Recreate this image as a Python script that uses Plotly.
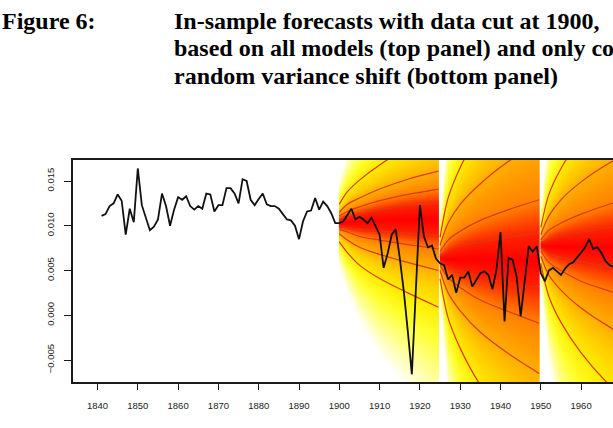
import numpy as np
import plotly.graph_objects as go

# ---------------- observed series ----------------
years = list(range(1841, 1969))
values = [
    0.0111, 0.0113, 0.0122, 0.0125, 0.0135, 0.0128, 0.0090, 0.0119, 0.0104, 0.0164,  # 1841-1850
    0.0123, 0.0110, 0.0095, 0.0099, 0.0107, 0.0136, 0.0122, 0.0100, 0.0118, 0.0132,  # 1851-1860
    0.0129, 0.0133, 0.0122, 0.0118, 0.0122, 0.0119, 0.0136, 0.0135, 0.0116, 0.0123,  # 1861-1870
    0.0123, 0.0142, 0.0142, 0.0136, 0.0125, 0.0152, 0.0150, 0.0129, 0.0123, 0.0130,  # 1871-1880
    0.0136, 0.0124, 0.0122, 0.0122, 0.0119, 0.0113, 0.0107, 0.0106, 0.0100, 0.0085,  # 1881-1890
    0.0105, 0.0116, 0.0117, 0.0131, 0.0118, 0.0127, 0.0122, 0.0114, 0.0103, 0.0103,  # 1891-1900
    0.0105, 0.0112, 0.0119, 0.0107, 0.0110, 0.0107, 0.0103, 0.0109, 0.0100, 0.0090,  # 1901-1910
    0.0053, 0.0069, 0.0090, 0.0096, 0.0064, 0.0027, -0.0018, -0.0066, 0.0029, 0.0123,  # 1911-1920
    0.0088, 0.0076, 0.0078, 0.0063, 0.0058, 0.0056, 0.0040, 0.0045, 0.0025, 0.0042,  # 1921-1930
    0.0042, 0.0049, 0.0032, 0.0040, 0.0047, 0.0049, 0.0045, 0.0029, 0.0051, 0.0093,  # 1931-1940
    -0.0007, 0.0064, 0.0062, 0.0043, -0.0001, 0.0038, 0.0077, 0.0071, 0.0077, 0.0047,  # 1941-1950
    0.0038, 0.0050, 0.0053, 0.0049, 0.0045, 0.0052, 0.0057, 0.0059, 0.0064, 0.0070,  # 1951-1960
    0.0076, 0.0085, 0.0074, 0.0076, 0.0070, 0.0061, 0.0056, 0.0054,                  # 1961-1968
]

# ---------------- fan chart quantile lines ----------------
seg_start = [1900.0, 1925.0, 1950.0]
seg_end = [1924.6, 1949.6, 1968.6]
horizon = [0, 2, 5, 10, 17, 24.6]
probs = [0.01, 0.05, 0.10, 0.25, 0.75, 0.90, 0.95, 0.99]
z_levels = [-2.326, -1.645, -1.282, -0.674, 0.674, 1.282, 1.645, 2.326]

seg1_q = [
    [0.0082, 0.0070, 0.0056, 0.0041, 0.0025, 0.0009],
    [0.0091, 0.0084, 0.0076, 0.0068, 0.0059, 0.0050],
    [0.0096, 0.0093, 0.0088, 0.0084, 0.0079, 0.0074],
    [0.0099, 0.0098, 0.0096, 0.0094, 0.0092, 0.0089],
    [0.0107, 0.0111, 0.0113, 0.0118, 0.0122, 0.0125],
    [0.0111, 0.0116, 0.0121, 0.0128, 0.0135, 0.0141],
    [0.0115, 0.0124, 0.0131, 0.0141, 0.0152, 0.0161],
    [0.0124, 0.0138, 0.0151, 0.0168, 0.0187, 0.0202],
]
seg2_q = [
    [0.0041, -0.0003, -0.0037, -0.0078, -0.0119, -0.0156],
    [0.0050, 0.0025, 0.0005, -0.0019, -0.0043, -0.0065],
    [0.0056, 0.0042, 0.0031, 0.0017, 0.0004, -0.0009],
    [0.0060, 0.0054, 0.0049, 0.0043, 0.0036, 0.0031],
    [0.0067, 0.0072, 0.0077, 0.0082, 0.0087, 0.0092],
    [0.0071, 0.0084, 0.0094, 0.0106, 0.0118, 0.0129],
    [0.0078, 0.0103, 0.0124, 0.0147, 0.0172, 0.0194],
    [0.0087, 0.0131, 0.0165, 0.0206, 0.0247, 0.0284],
]
seg3_q = [
    [0.0058, 0.0021, -0.0008, -0.0042, -0.0078, -0.0109],
    [0.0066, 0.0045, 0.0028, 0.0008, -0.0013, -0.0031],
    [0.0072, 0.0059, 0.0050, 0.0038, 0.0027, 0.0016],
    [0.0075, 0.0069, 0.0065, 0.0060, 0.0054, 0.0050],
    [0.0081, 0.0085, 0.0089, 0.0093, 0.0098, 0.0102],
    [0.0084, 0.0095, 0.0103, 0.0113, 0.0124, 0.0133],
    [0.0090, 0.0111, 0.0129, 0.0149, 0.0170, 0.0188],
    [0.0098, 0.0135, 0.0164, 0.0198, 0.0234, 0.0265],
]
segments = [seg1_q, seg2_q, seg3_q]

x_ticks = list(range(1840, 1970, 10))
y_ticks = [-0.005, 0.0, 0.005, 0.010, 0.015]
y_tick_text = ["\u22120.005", "0.000", "0.005", "0.010", "0.015"]

X_RANGE = [1833.92, 1967.91]
Y_RANGE = [-0.007458, 0.017346]
ZMAX = 4.5

fan_colorscale = [
    [0.000, "#ff0000"],
    [0.150, "#ff2200"],
    [0.220, "#ff5200"],
    [0.285, "#ff8000"],
    [0.365, "#ffae00"],
    [0.440, "#ffd200"],
    [0.520, "#ffec00"],
    [0.650, "#ffff30"],
    [0.800, "#ffff90"],
    [0.920, "#ffffd4"],
    [1.000, "#ffffff"],
]


def fan_grid(start, end, q):
    xs = np.arange(start, end + 1e-9, 0.2)
    ys = np.linspace(Y_RANGE[0], Y_RANGE[1], 320)
    zl = np.array(z_levels)
    Z = np.zeros((len(ys), len(xs)))
    for j, x in enumerate(xs):
        h = x - start
        qv = np.array([np.interp(h, horizon, line) for line in q])
        zz = np.interp(ys, qv, zl)
        lo = ys < qv[0]
        hi = ys > qv[-1]
        slo = (zl[1] - zl[0]) / (qv[1] - qv[0])
        shi = (zl[-1] - zl[-2]) / (qv[-1] - qv[-2])
        zz[lo] = zl[0] - (qv[0] - ys[lo]) * slo
        zz[hi] = zl[-1] + (ys[hi] - qv[-1]) * shi
        Z[:, j] = np.minimum(np.abs(zz), ZMAX)
    return xs, ys, Z


fig = go.Figure()

for start, end, q in zip(seg_start, seg_end, segments):
    xs, ys, Z = fan_grid(start, end, q)
    fig.add_trace(go.Heatmap(
        x=xs, y=ys, z=Z, zmin=0, zmax=ZMAX, colorscale=fan_colorscale,
        showscale=False, zsmooth="best", hoverinfo="skip",
    ))

for start, q in zip(seg_start, segments):
    hx = [start + h for h in horizon]
    for line in q:
        fig.add_trace(go.Scatter(
            x=hx, y=line, mode="lines",
            line=dict(color="#e03812", width=1.2, shape="spline", smoothing=0.9),
            hoverinfo="skip", showlegend=False,
        ))

fig.add_trace(go.Scatter(
    x=years, y=values, mode="lines",
    line=dict(color="#111111", width=1.8),
    hoverinfo="skip", showlegend=False,
))

tick_font = dict(family="Liberation Sans, Arial, sans-serif", size=9.5, color="#222222")

fig.update_layout(
    width=613, height=428,
    margin=dict(l=73, r=0, t=160, b=46),
    paper_bgcolor="white", plot_bgcolor="white",
    showlegend=False,
    xaxis=dict(
        range=X_RANGE, showgrid=False, zeroline=False,
        showline=True, linecolor="#1a1a1a", linewidth=1.6, mirror=True,
        ticks="outside", ticklen=6, tickwidth=1, tickcolor="#1a1a1a",
        tickvals=x_ticks, ticktext=[str(t) for t in x_ticks],
        tickfont=tick_font, ticklabelstandoff=8,
    ),
    yaxis=dict(
        range=Y_RANGE, showgrid=False, zeroline=False,
        showline=True, linecolor="#1a1a1a", linewidth=1.6, mirror=False,
        ticks="outside", ticklen=7, tickwidth=1, tickcolor="#1a1a1a",
        tickvals=y_ticks, ticktext=y_tick_text, tickangle=-90,
        tickfont=tick_font, ticklabelstandoff=6,
    ),
)

PLOT_L, PLOT_W, PLOT_B, PLOT_H = 73, 540, 382, 222


def px_x(px):
    return (px - PLOT_L) / PLOT_W


def px_y(py):
    return (PLOT_B - py) / PLOT_H


title_font = dict(family="Liberation Serif, Times New Roman, serif", size=24, color="#000000", weight="bold")
title_lines = [
    (0, 20.5, "Figure 6:"),
    (172, 20.5, "In-sample forecasts with data cut at 1900,"),
    (172, 48, "based on all models (top panel) and only co"),
    (172, 75.5, "random variance shift (bottom panel)"),
]
for px, py, txt in title_lines:
    fig.add_annotation(
        x=px_x(px), y=px_y(py), xref="paper", yref="paper",
        text=txt, showarrow=False, xanchor="left", yanchor="middle",
        font=title_font,
    )

fig.write_html("out.html")
